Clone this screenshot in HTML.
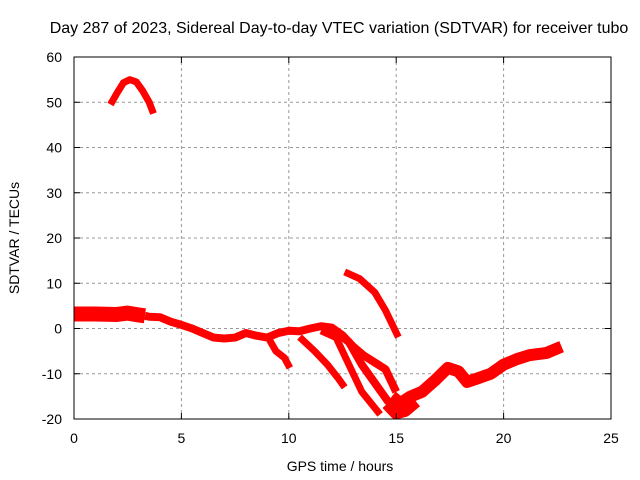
<!DOCTYPE html>
<html><head><meta charset="utf-8"><style>
body{margin:0;background:#fff}
svg{display:block;font-family:"Liberation Sans",sans-serif}
</style></head><body>
<svg id="chart" width="640" height="480">
<rect width="640" height="480" fill="#fff"/>
<text x="339" y="33" font-size="16" text-anchor="middle">Day 287 of 2023, Sidereal Day-to-day VTEC variation (SDTVAR) for receiver tubo</text>
<g id="grid"></g>
<g id="series"></g>
<rect x="74" y="57" width="537" height="362" fill="none" stroke="#000"/>
<g id="ticks"></g>
<text x="340" y="471" font-size="14" text-anchor="middle">GPS time / hours</text>
<text transform="translate(19,238) rotate(-90)" font-size="14" text-anchor="middle">SDTVAR / TECUs</text>
</svg>
<script>
const xTicks=[0,5,10,15,20,25];
const yTicks=[-20,-10,0,10,20,30,40,50,60];
const arcX=[1.7,2.0,2.3,2.6,2.9,3.2,3.5,3.7];
const arcY=[49.5,52,54.3,55,54.5,52.5,50,47.5];
const leftX=[0,1,2,2.5,3,3.3];
const leftY=[3.2,3.2,3.1,3.4,3.0,2.8];
const mainX=[3.3,3.5,4,4.5,5,5.5,6,6.5,7,7.5,8,8.5,9,9.5,10,10.5,11,11.5,12,12.5,13,13.5,14,14.5,15];
const mainY=[2.8,2.6,2.5,1.5,0.8,0,-1,-2,-2.2,-2,-1,-1.6,-2,-1,-0.5,-0.6,0,0.5,0.2,-1.5,-4,-6,-7.5,-9,-14];
const rightX=[14.8,15.2,15.64,16.2,16.8,17.4,17.9,18.3,18.8,19.4,20,20.6,21.2,22,22.7];
const rightY=[-15,-16.5,-15.1,-14,-11.5,-8.7,-9.5,-11.8,-11,-10,-8,-6.8,-5.9,-5.4,-4];
const b1X=[9.1,9.4,9.8,10.05];const b1Y=[-2.5,-5,-6.5,-8.7];
const b2X=[10.5,11.2,11.8,12.3,12.6];const b2Y=[-1.9,-5,-8,-11,-13];
const b3X=[11.5,12.2,12.8,13.4,14.25];const b3Y=[-0.5,-2,-8,-14,-19];
const b4X=[12,12.8,13.4,14,14.6,15.2];const b4Y=[0,-3,-8,-12,-16,-18.5];
const b5X=[12.6,13.3,14,14.5,15.1];const b5Y=[12.5,11,8,4,-1.9];
const blobX=[14.6,15.0,15.4,15.9];const blobY=[-16.5,-18.5,-18,-16];
const X0=74,X1=611,Y0=419,Y1=57;
const sx=v=>X0+(v-0)/25*(X1-X0);
const sy=v=>Y0-(v+20)/80*(Y0-Y1);
const NS="http://www.w3.org/2000/svg";
const grid=document.getElementById('grid'),ticks=document.getElementById('ticks'),ser=document.getElementById('series');
function mk(t,a,p){const e=document.createElementNS(NS,t);for(const k in a)e.setAttribute(k,a[k]);p.appendChild(e);return e;}
xTicks.forEach(v=>{
 if(v>0&&v<25){const g=mk('line',{x1:sx(v),x2:sx(v),y1:Y0,y2:Y1,stroke:'#999','stroke-dasharray':'3,3'},grid);
 
 }
 const t=mk('text',{x:sx(v),y:443,'font-size':14,'text-anchor':'middle'},ticks);t.textContent=v;
 
 
 mk('line',{x1:sx(v),x2:sx(v),y1:Y0,y2:Y0-6,stroke:'#000'},ticks);
 mk('line',{x1:sx(v),x2:sx(v),y1:Y1,y2:Y1+6,stroke:'#000'},ticks);
});
yTicks.forEach(v=>{
 if(v>-20&&v<60){const g=mk('line',{x1:X0,x2:X1,y1:sy(v),y2:sy(v),stroke:'#999','stroke-dasharray':'3,3'},grid);
 
 }
 const t=mk('text',{x:62,y:sy(v)+5,'font-size':14,'text-anchor':'end'},ticks);t.textContent=v;
 
 
 mk('line',{x1:X0,x2:X0+6,y1:sy(v),y2:sy(v),stroke:'#000'},ticks);
 mk('line',{x1:X1,x2:X1-6,y1:sy(v),y2:sy(v),stroke:'#000'},ticks);
});
function line(xs,ys,w,name){
 const p=mk('polyline',{points:xs.map((x,i)=>sx(x)+','+sy(ys[i])).join(' '),fill:'none',stroke:'#f00','stroke-width':w,'stroke-linejoin':'round','stroke-linecap':'butt'},ser);
 
 
}
line(arcX,arcY,7,'series-arc');
line(leftX,leftY,15,'series-left');
line(mainX,mainY,8,'series-main');
line(rightX,rightY,12,'series-right');
line(b1X,b1Y,7,'series-branch-1');
line(b2X,b2Y,7,'series-branch-2');
line(b3X,b3Y,7,'series-branch-3');
line(b4X,b4Y,8,'series-branch-4');
line(b5X,b5Y,7,'series-branch-5');
line(blobX,blobY,14,'series-blob');
</script>
</body></html>
